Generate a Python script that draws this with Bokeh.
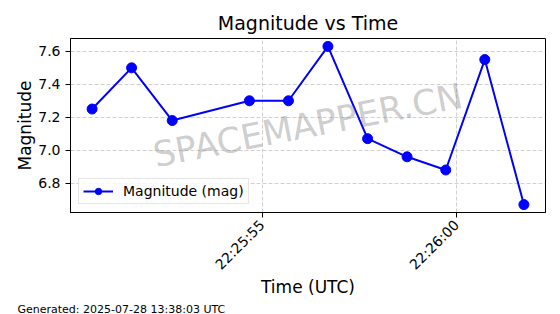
import math
import pandas as pd
from bokeh.plotting import figure
from bokeh.models import (Range1d, FixedTicker, DatetimeTickFormatter,
                          NumeralTickFormatter, Label, Legend, LegendItem, Title)
from bokeh.embed import file_html
from bokeh.resources import INLINE

# ---- data ----
times = ["2025-07-27 22:25:50.626", "2025-07-27 22:25:51.642", "2025-07-27 22:25:52.688",
         "2025-07-27 22:25:54.673", "2025-07-27 22:25:55.678", "2025-07-27 22:25:56.693",
         "2025-07-27 22:25:57.714", "2025-07-27 22:25:58.729", "2025-07-27 22:25:59.724",
         "2025-07-27 22:26:00.729", "2025-07-27 22:26:01.735"]
magnitudes = [7.25, 7.50, 7.18, 7.30, 7.30, 7.63, 7.07, 6.96, 6.88, 7.55, 6.67]
x_tick_times = ["2025-07-27 22:25:55", "2025-07-27 22:26:00"]
y_ticks = [6.8, 7.0, 7.2, 7.4, 7.6]
title_text = "Magnitude vs Time"
x_label = "Time (UTC)"
y_label = "Magnitude"
legend_label = "Magnitude (mag)"
watermark = "SPACEMAPPER.CN"
footer = "Generated: 2025-07-28 13:38:03 UTC"

FONT = "DejaVu Sans"

t = pd.to_datetime(times)
tms = [ts.value / 1e6 for ts in t]
xt = [pd.Timestamp(s).value / 1e6 for s in x_tick_times]

xmin, xmax = min(tms), max(tms)
xpad = 0.05 * (xmax - xmin)
ymin, ymax = min(magnitudes), max(magnitudes)
ypad = 0.05 * (ymax - ymin)

p = figure(frame_width=475, frame_height=174, output_backend="svg", toolbar_location=None,
           x_axis_type="datetime",
           x_range=Range1d(xmin - xpad, xmax + xpad),
           y_range=Range1d(ymin - ypad, ymax + ypad),
           min_border_left=70, min_border_right=15, min_border_top=38, min_border_bottom=0)

p.title.text = title_text
p.title.align = "center"
p.title.text_font = FONT
p.title.text_font_size = "19px"
p.title.text_font_style = "normal"
p.title.text_color = "black"

line = p.line(tms, magnitudes, line_color="#0000ff", line_width=2)
pts = p.scatter(tms, magnitudes, size=10, fill_color="#0000ff", line_color="#0000ff")

p.xaxis.ticker = FixedTicker(ticks=xt)
p.xaxis.formatter = DatetimeTickFormatter(seconds="%H:%M:%S", milliseconds="%H:%M:%S",
                                          minsec="%H:%M:%S", minutes="%H:%M:%S",
                                          hourmin="%H:%M:%S", hours="%H:%M:%S")
p.xaxis.major_label_orientation = math.pi / 4
p.yaxis.ticker = FixedTicker(ticks=y_ticks)
p.yaxis.formatter = NumeralTickFormatter(format="0.0")

for ax in (p.xaxis, p.yaxis):
    ax.axis_label_text_font = FONT
    ax.axis_label_text_font_size = "17px"
    ax.axis_label_text_font_style = "normal"
    ax.axis_label_text_color = "black"
    ax.axis_label_text_line_height = 1.0
    ax.major_label_text_font = FONT
    ax.major_label_text_font_size = "14px"
    ax.major_label_text_color = "black"
    ax.minor_tick_line_color = None
    ax.major_tick_out = 5
    ax.major_tick_in = 0
    ax.major_tick_line_color = "black"
    ax.axis_line_color = "black"
p.xaxis.axis_label = x_label
p.yaxis.axis_label = y_label
p.xaxis.axis_label_standoff = -4
p.yaxis.axis_label_standoff = 0

p.xgrid.ticker = FixedTicker(ticks=xt)
for g in (p.xgrid, p.ygrid):
    g.grid_line_color = "#b0b0b0"
    g.grid_line_alpha = 0.6
    g.grid_line_dash = "4 2"
    g.grid_line_width = 1

p.outline_line_color = "black"
p.outline_line_width = 1
p.outline_line_alpha = 1

legend = Legend(items=[LegendItem(label=legend_label, renderers=[line, pts])],
                location="bottom_left")
legend.label_text_font = FONT
legend.label_text_font_size = "14px"
legend.label_text_color = "black"
legend.glyph_width = 30
legend.glyph_height = 16
legend.label_height = 16
legend.label_standoff = 10
legend.padding = 4
legend.margin = 8
legend.border_line_color = "#cccccc"
legend.background_fill_alpha = 0.8
p.add_layout(legend, "center")

wm = Label(x=237.5, y=87, x_units="screen", y_units="screen", text=watermark,
           angle=11, angle_units="deg", text_align="center", text_baseline="middle",
           text_font=FONT, text_font_size="35px", text_color="gray", text_alpha=0.4)
p.add_layout(wm)

ft = Title(text=footer, align="left", offset=-53, text_font=FONT, text_font_size="11px",
           text_font_style="normal", text_color="black", standoff=0, text_line_height=1.0)
p.add_layout(ft, "below")

open("out.html", "w").write(file_html(p, INLINE))
